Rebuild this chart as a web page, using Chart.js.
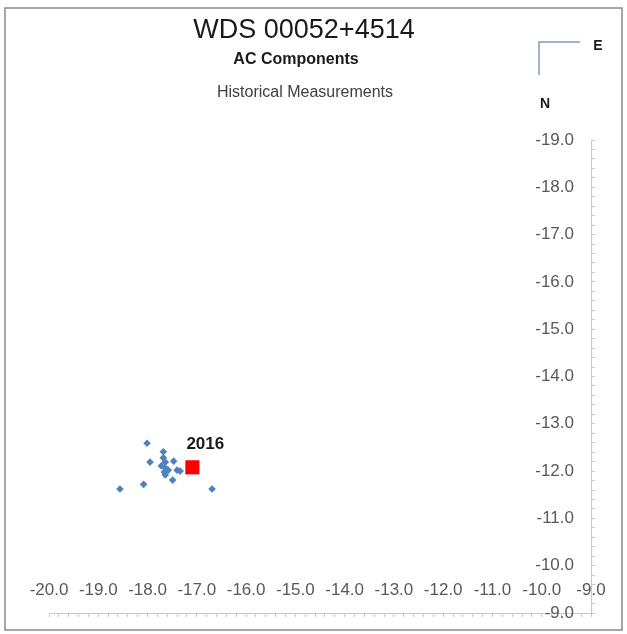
<!DOCTYPE html>
<html>
<head>
<meta charset="utf-8">
<title>WDS 00052+4514</title>
<script src="https://cdn.jsdelivr.net/npm/chart.js@4.4.1/dist/chart.umd.min.js"></script>
<style>
  body { margin: 0; background: #ffffff; }
  #Grafica1 { display: block; }
</style>
</head>
<body>
<canvas id="Grafica1" width="627" height="634"></canvas>
<script>
// datos
var tituloPrincipal = "WDS 00052+4514";
var subtitulo = "AC Components";
var subtitulo2 = "Historical Measurements";

var histX = [-18.01, -17.68, -17.47, -17.95, -17.68, -17.64, -17.72, -17.64, -17.58, -17.66, -17.64, -17.40, -17.34, -17.49, -18.08, -18.56, -16.69];
var histY = [-12.59, -12.41, -12.21, -12.19, -12.28, -12.19, -12.11, -12.07, -12.02, -11.98, -11.92, -12.02, -12.00, -11.81, -11.72, -11.62, -11.62];

var ultimoX = [-17.09];
var ultimoY = [-12.08];
var ultimoEtiqueta = ["2016"];

var ejeXmin = -20, ejeXmax = -9;
var ejeYmin = -19, ejeYmax = -9;

var fuente = '"Liberation Sans", Arial, sans-serif';

function puntos(xs, ys) {
    var r = [];
    for (var i = 0; i < xs.length; i++) {
        r.push({ x: xs[i], y: ys[i] });
    }
    return r;
}

function etiquetaEje(v) {
    // solo los enteros llevan texto, el resto son marcas menores
    if (Math.abs(v - Math.round(v)) < 1e-6) {
        return Math.round(v).toFixed(1);
    }
    return '';
}

// textos, brujula y marco
var textos = {
    id: 'textos',
    afterDraw: function (chart) {
        var ctx = chart.ctx;
        ctx.save();

        ctx.strokeStyle = '#8a8a8a';
        ctx.lineWidth = 1.5;
        ctx.strokeRect(5, 8, 617, 622);

        ctx.fillStyle = '#1a1a1a';
        ctx.textAlign = 'center';
        ctx.textBaseline = 'middle';
        ctx.font = '27px ' + fuente;
        ctx.fillText(tituloPrincipal, 304, 31);
        ctx.font = 'bold 16px ' + fuente;
        ctx.fillText(subtitulo, 296, 60);
        ctx.fillStyle = '#404040';
        ctx.font = '16px ' + fuente;
        ctx.fillText(subtitulo2, 305, 93);

        // brujula
        ctx.strokeStyle = '#7f9cc2';
        ctx.lineWidth = 1.5;
        ctx.beginPath();
        ctx.moveTo(580, 42);
        ctx.lineTo(539, 42);
        ctx.lineTo(539, 75);
        ctx.stroke();
        ctx.fillStyle = '#1a1a1a';
        ctx.font = 'bold 14px ' + fuente;
        ctx.fillText('E', 598, 46);
        ctx.fillText('N', 545, 104);

        // etiqueta del ultimo punto
        var meta = chart.getDatasetMeta(1);
        ctx.textAlign = 'left';
        ctx.font = 'bold 17px ' + fuente;
        for (var i = 0; i < meta.data.length; i++) {
            var p = meta.data[i];
            ctx.fillText(ultimoEtiqueta[i], p.x - 6, p.y - 23);
        }
        ctx.restore();
    }
};

var ctx = document.getElementById('Grafica1').getContext('2d');
var myChart = new Chart(ctx, {
    type: 'scatter',
    data: {
        datasets: [
            {
                label: 'Historical',
                data: puntos(histX, histY),
                pointStyle: 'rectRot',
                pointRadius: 3.8,
                backgroundColor: '#4f81bd',
                borderColor: '#4f81bd',
                borderWidth: 0
            },
            {
                label: '2016',
                data: puntos(ultimoX, ultimoY),
                pointStyle: 'rect',
                pointRadius: 10,
                backgroundColor: '#ff0000',
                borderColor: '#e00000',
                borderWidth: 0
            }
        ]
    },
    options: {
        responsive: false,
        animation: false,
        layout: {
            padding: { left: 49, top: 140, right: 26, bottom: 11 }
        },
        plugins: {
            legend: { display: false },
            title: { display: false },
            tooltip: { enabled: false }
        },
        scales: {
            x: {
                type: 'linear',
                position: 'bottom',
                min: ejeXmin,
                max: ejeXmax,
                afterFit: function (scale) { scale.height = 10; },
                border: { display: true, color: '#c8c8c8', width: 1 },
                grid: { drawOnChartArea: false, drawTicks: true, tickLength: 4, color: '#c8c8c8' },
                ticks: {
                    stepSize: 0.2,
                    autoSkip: false,
                    maxRotation: 0,
                    mirror: true,
                    padding: 12,
                    color: '#595959',
                    font: { family: fuente, size: 17 },
                    callback: function (v) { return etiquetaEje(v); }
                }
            },
            y: {
                type: 'linear',
                position: 'right',
                min: ejeYmin,
                max: ejeYmax,
                reverse: true,
                afterFit: function (scale) { scale.width = 10; },
                border: { display: true, color: '#c8c8c8', width: 1 },
                grid: { drawOnChartArea: false, drawTicks: true, tickLength: 4, color: '#c8c8c8' },
                ticks: {
                    stepSize: 0.2,
                    autoSkip: false,
                    mirror: true,
                    padding: -17,
                    color: '#595959',
                    font: { family: fuente, size: 17 },
                    callback: function (v) { return etiquetaEje(v); }
                }
            }
        }
    },
    plugins: [textos]
});
</script>
</body>
</html>
